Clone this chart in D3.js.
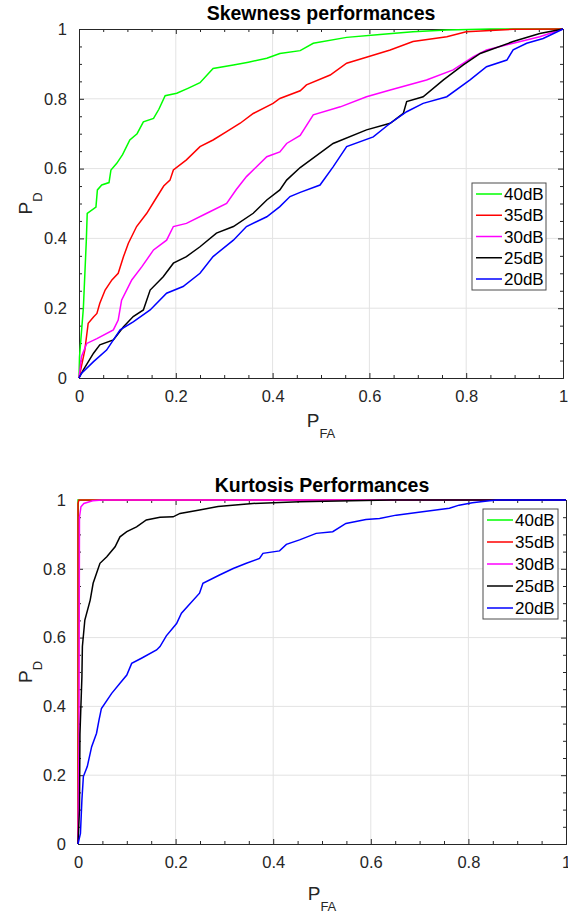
<!DOCTYPE html>
<html>
<head>
<meta charset="utf-8">
<script src="https://cdn.jsdelivr.net/npm/d3@7"></script>
<style>
  html, body { margin: 0; padding: 0; background: #fff; }
  svg { display: block; font-family: "Liberation Sans", Arial, Helvetica, sans-serif; }
</style>
</head>
<body>
<svg id="chart" width="568" height="914"></svg>
<script>
// ---------- data ----------
const seriesNames = ["40dB", "35dB", "30dB", "25dB", "20dB"];
const seriesColors = ["#00ff00", "#ff0000", "#ff00ff", "#000000", "#0000ff"];
const tickValues = [0, 0.2, 0.4, 0.6, 0.8, 1];
const tickLabels = ["0", "0.2", "0.4", "0.6", "0.8", "1"];

// Skewness ROC curves: [PFA, PD]
const skew40 = [[0,0],[0.001,0.06],[0.009,0.2],[0.015,0.39],[0.017,0.472],[0.035,0.49],[0.038,0.539],[0.047,0.553],[0.062,0.56],[0.066,0.596],[0.078,0.615],[0.09,0.64],[0.105,0.682],[0.12,0.70],[0.133,0.734],[0.154,0.744],[0.165,0.77],[0.178,0.809],[0.202,0.816],[0.225,0.83],[0.25,0.846],[0.277,0.887],[0.319,0.897],[0.35,0.905],[0.388,0.916],[0.415,0.93],[0.457,0.938],[0.484,0.959],[0.553,0.976],[0.622,0.984],[0.69,0.992],[0.76,0.997],[0.85,1],[1,1]];
const skew35 = [[0,0],[0.002,0.013],[0.012,0.08],[0.019,0.157],[0.03,0.175],[0.037,0.185],[0.043,0.214],[0.054,0.252],[0.068,0.281],[0.081,0.3],[0.092,0.348],[0.102,0.386],[0.119,0.434],[0.14,0.472],[0.157,0.51],[0.175,0.55],[0.188,0.567],[0.195,0.596],[0.222,0.625],[0.25,0.663],[0.277,0.682],[0.305,0.706],[0.333,0.73],[0.36,0.758],[0.401,0.787],[0.415,0.801],[0.457,0.823],[0.47,0.84],[0.519,0.868],[0.553,0.902],[0.587,0.916],[0.643,0.94],[0.69,0.964],[0.76,0.978],[0.80,0.992],[0.897,0.999],[1,1]];
const skew30 = [[0,0],[0.005,0.061],[0.016,0.099],[0.037,0.113],[0.071,0.138],[0.081,0.166],[0.088,0.223],[0.109,0.281],[0.13,0.319],[0.154,0.367],[0.181,0.395],[0.195,0.434],[0.222,0.443],[0.264,0.472],[0.305,0.50],[0.325,0.54],[0.346,0.577],[0.388,0.634],[0.415,0.648],[0.429,0.672],[0.457,0.695],[0.484,0.754],[0.54,0.777],[0.594,0.806],[0.643,0.825],[0.718,0.854],[0.773,0.883],[0.815,0.921],[0.842,0.94],[0.897,0.959],[0.952,0.978],[1,1]];
const skew25 = [[0,0],[0.009,0.023],[0.03,0.071],[0.043,0.095],[0.071,0.109],[0.092,0.147],[0.112,0.176],[0.133,0.195],[0.147,0.252],[0.174,0.29],[0.195,0.329],[0.222,0.348],[0.25,0.376],[0.284,0.415],[0.319,0.434],[0.36,0.472],[0.388,0.51],[0.415,0.539],[0.429,0.567],[0.457,0.603],[0.525,0.672],[0.594,0.711],[0.643,0.73],[0.67,0.758],[0.677,0.792],[0.711,0.806],[0.753,0.854],[0.794,0.897],[0.829,0.93],[0.897,0.964],[0.952,0.987],[1,1]];
const skew20 = [[0,0],[0.005,0.013],[0.03,0.047],[0.057,0.08],[0.085,0.138],[0.112,0.161],[0.147,0.195],[0.181,0.243],[0.215,0.262],[0.25,0.3],[0.277,0.348],[0.319,0.395],[0.346,0.434],[0.388,0.462],[0.415,0.491],[0.436,0.52],[0.457,0.532],[0.498,0.553],[0.525,0.605],[0.553,0.663],[0.608,0.691],[0.643,0.73],[0.677,0.763],[0.711,0.787],[0.76,0.806],[0.808,0.854],[0.842,0.892],[0.884,0.911],[0.897,0.94],[0.925,0.959],[0.959,0.973],[1,1]];

// Kurtosis ROC curves: [PFA, PD]
const kurt40 = [[0,0],[0,1],[1,1]];
const kurt35 = [[0,0],[0,0.99],[0.002,1],[1,1]];
const kurt30 = [[0,0],[0.002,0.3],[0.003,0.95],[0.006,0.98],[0.012,0.99],[0.03,0.998],[0.05,1],[1,1]];
const kurt25 = [[0,0],[0.003,0.1],[0.004,0.32],[0.008,0.486],[0.009,0.574],[0.014,0.651],[0.025,0.709],[0.031,0.758],[0.038,0.787],[0.045,0.816],[0.059,0.835],[0.076,0.864],[0.086,0.893],[0.1,0.908],[0.12,0.922],[0.14,0.942],[0.168,0.95],[0.195,0.951],[0.209,0.961],[0.249,0.971],[0.287,0.981],[0.358,0.99],[0.454,0.995],[0.64,1],[1,1]];
const kurt20 = [[0,0],[0.002,0.012],[0.005,0.031],[0.008,0.128],[0.011,0.196],[0.019,0.225],[0.028,0.283],[0.038,0.322],[0.043,0.36],[0.048,0.394],[0.069,0.438],[0.086,0.467],[0.1,0.491],[0.11,0.525],[0.13,0.54],[0.161,0.564],[0.168,0.574],[0.181,0.605],[0.202,0.641],[0.212,0.671],[0.249,0.729],[0.256,0.758],[0.29,0.782],[0.318,0.801],[0.345,0.816],[0.372,0.83],[0.379,0.845],[0.413,0.852],[0.427,0.871],[0.454,0.884],[0.488,0.903],[0.522,0.908],[0.549,0.932],[0.59,0.943],[0.618,0.946],[0.652,0.956],[0.706,0.966],[0.761,0.976],[0.781,0.985],[0.808,0.992],[0.843,0.998],[0.86,1],[1,1]];

const panels = [
  { title: "Skewness performances", series: [skew40, skew35, skew30, skew25, skew20],
    x0: 79, x1: 563, y0: 378, y1: 29, titleY: 20, xlabY: 427, ylabX: 32,
    legend: { x: 472, y: 183, w: 74, h: 107 } },
  { title: "Kurtosis Performances", series: [kurt40, kurt35, kurt30, kurt25, kurt20],
    x0: 78, x1: 566, y0: 844, y1: 500, titleY: 492, xlabY: 900, ylabX: 32,
    legend: { x: 483, y: 509, w: 75, h: 110 } }
];

const svg = d3.select("#chart");
const axisColor = "#262626";
const minorVals = d3.range(0, 1.0001, 0.05);

panels.forEach(p => {
  const x = d3.scaleLinear().domain([0, 1]).range([p.x0, p.x1]);
  const y = d3.scaleLinear().domain([0, 1]).range([p.y0, p.y1]);
  const g = svg.append("g");

  // grid
  g.append("g").selectAll("line.gx").data(tickValues.slice(1, -1)).join("line")
    .attr("x1", d => x(d)).attr("x2", d => x(d)).attr("y1", p.y0).attr("y2", p.y1)
    .attr("stroke", "#e3e3e3").attr("stroke-width", 1);
  g.append("g").selectAll("line.gy").data(tickValues.slice(1, -1)).join("line")
    .attr("y1", d => y(d)).attr("y2", d => y(d)).attr("x1", p.x0).attr("x2", p.x1)
    .attr("stroke", "#e3e3e3").attr("stroke-width", 1);

  const fmt = (d) => tickLabels[tickValues.indexOf(d)];
  const mkAxis = (axisFn, scale, withLabels, transform, tickLen, vals) => {
    const a = axisFn(scale).tickValues(vals).tickSizeInner(-tickLen).tickSizeOuter(0)
      .tickFormat(withLabels ? fmt : () => "").tickPadding(withLabels ? 12 : 0);
    const ga = g.append("g").attr("transform", transform).call(a);
    ga.select(".domain").attr("stroke", axisColor).attr("stroke-width", 1);
    ga.selectAll(".tick line").attr("stroke", axisColor);
    ga.selectAll("text").attr("fill", axisColor).attr("font-size", 16.5)
      .attr("font-family", '"Liberation Sans", Arial, sans-serif');
    return ga;
  };
  const minorOnly = minorVals.filter(v => !tickValues.some(t => Math.abs(t - v) < 1e-9));
  mkAxis(d3.axisBottom, x, true, `translate(0,${p.y0})`, 5, tickValues);
  mkAxis(d3.axisBottom, x, false, `translate(0,${p.y0})`, 3, minorOnly);
  mkAxis(d3.axisTop, x, false, `translate(0,${p.y1})`, 5, tickValues);
  mkAxis(d3.axisTop, x, false, `translate(0,${p.y1})`, 3, minorOnly);
  mkAxis(d3.axisLeft, y, true, `translate(${p.x0},0)`, 5, tickValues);
  mkAxis(d3.axisLeft, y, false, `translate(${p.x0},0)`, 3, minorOnly);
  mkAxis(d3.axisRight, y, false, `translate(${p.x1},0)`, 5, tickValues);
  mkAxis(d3.axisRight, y, false, `translate(${p.x1},0)`, 3, minorOnly);

  // data lines
  const line = d3.line().x(d => x(d[0])).y(d => y(d[1]));
  p.series.forEach((s, i) => {
    g.append("path").datum(s).attr("d", line).attr("fill", "none")
      .attr("stroke", seriesColors[i]).attr("stroke-width", 1.5)
      .attr("stroke-linejoin", "miter");
  });

  // title
  g.append("text").attr("x", (p.x0 + p.x1) / 2).attr("y", p.titleY)
    .attr("text-anchor", "middle").attr("font-size", 19.5).attr("font-weight", "bold")
    .attr("fill", "#000").text(p.title);

  // x label P_FA
  const xl = g.append("text").attr("x", (p.x0 + p.x1) / 2).attr("y", p.xlabY)
    .attr("text-anchor", "middle").attr("fill", axisColor);
  xl.append("tspan").attr("font-size", 19).text("P");
  xl.append("tspan").attr("font-size", 13).attr("dy", 11).text("FA");

  // y label P_D
  const yl = g.append("text")
    .attr("transform", `translate(${p.ylabX},${(p.y0 + p.y1) / 2}) rotate(-90)`)
    .attr("text-anchor", "middle").attr("fill", axisColor);
  yl.append("tspan").attr("font-size", 19).text("P");
  yl.append("tspan").attr("font-size", 13).attr("dy", 10).text("D");

  // legend
  const L = p.legend;
  const lg = g.append("g");
  lg.append("rect").attr("x", L.x).attr("y", L.y).attr("width", L.w).attr("height", L.h)
    .attr("fill", "#fff").attr("stroke", "#4d4d4d").attr("stroke-width", 1);
  const rowH = (L.h - 22) / 4;
  seriesNames.forEach((n, i) => {
    const cy = L.y + 11 + i * rowH;
    lg.append("line").attr("x1", L.x + 4).attr("x2", L.x + 30).attr("y1", cy).attr("y2", cy)
      .attr("stroke", seriesColors[i]).attr("stroke-width", 1.5);
    lg.append("text").attr("x", L.x + 32).attr("y", cy + 6).attr("font-size", 17)
      .attr("fill", "#000").text(n);
  });
});
</script>
</body>
</html>
